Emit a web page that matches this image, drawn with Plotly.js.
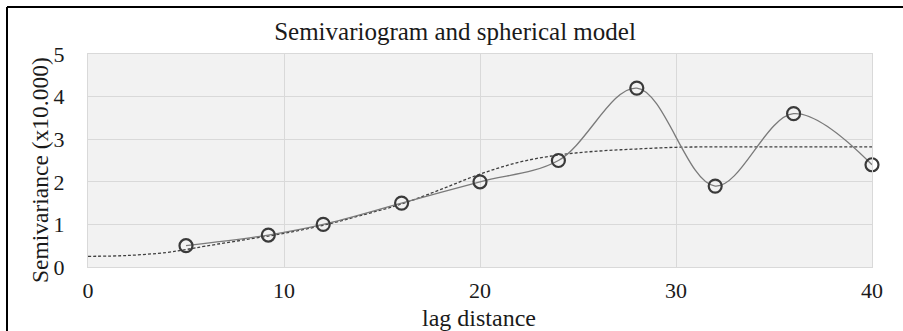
<!DOCTYPE html>
<html>
<head>
<meta charset="utf-8">
<script src="https://cdn.plot.ly/plotly-3.0.1.min.js"></script>
<style>
  html, body { margin: 0; padding: 0; background: #ffffff; }
  #chart { width: 903px; height: 331px; }
</style>
</head>
<body>
<div id="chart"></div>
<script>
// Experimental semivariogram (lag distance, semivariance x10.000)
const lagDistance = [5, 9.2, 12, 16, 20, 24, 28, 32, 36, 40];
const semivariance = [0.5, 0.75, 1.0, 1.5, 2.0, 2.5, 4.2, 1.9, 3.6, 2.4];

// Spherical model curve
const modelLag = [0, 2, 4, 5, 6, 8, 10, 12, 14, 16, 18, 20, 22, 24, 26, 28, 30, 32, 34, 36, 38, 40];
const modelValue = [0.25, 0.27, 0.34, 0.41, 0.49, 0.64, 0.79, 0.98, 1.22, 1.48, 1.82, 2.18, 2.46, 2.63, 2.72, 2.77, 2.81, 2.82, 2.82, 2.82, 2.82, 2.82];

const xTicks = [0, 10, 20, 30, 40];
const yTicks = [0, 1, 2, 3, 4, 5];

const serif = 'Liberation Serif, Times New Roman, serif';

const traces = [
  {
    x: modelLag, y: modelValue, type: 'scatter', mode: 'lines',
    line: { color: '#3f3f3f', width: 1.3, dash: '3px,2px', shape: 'spline', smoothing: 1 },
    hoverinfo: 'skip', showlegend: false
  },
  {
    x: lagDistance, y: semivariance, type: 'scatter', mode: 'lines+markers',
    cliponaxis: false,
    line: { color: '#7a7a7a', width: 1.3, shape: 'spline', smoothing: 1 },
    marker: { symbol: 'circle-open', size: 13, color: '#3a3a3a', line: { width: 2.2, color: '#3a3a3a' } },
    showlegend: false
  }
];

// pixel -> paper helpers for the outer frame and text placement
const L = 88, R = 31, T = 54, B = 64, W = 903, H = 331;
const pw = W - L - R, ph = H - T - B;
const px = p => (p - L) / pw;
const py = p => (H - B - p) / ph;

const layout = {
  width: W, height: H,
  margin: { l: L, r: R, t: T, b: B, pad: 0 },
  paper_bgcolor: '#ffffff',
  plot_bgcolor: '#f2f2f2',
  font: { family: serif, color: '#1a1a1a', size: 22 },
  title: {
    text: 'Semivariogram and spherical model',
    font: { family: serif, size: 25, color: '#1a1a1a' },
    x: 455 / W, xanchor: 'center', xref: 'container',
    y: 1 - 31 / H, yanchor: 'middle', yref: 'container'
  },
  xaxis: {
    range: [0, 40], tickvals: xTicks, ticktext: xTicks.map(String),
    showgrid: true, gridcolor: '#d9d9d9', gridwidth: 1,
    zeroline: false, showline: true, linecolor: '#d9d9d9', mirror: true,
    ticks: '', ticklabelstandoff: 4,
    tickfont: { family: serif, size: 22, color: '#1a1a1a' }
  },
  yaxis: {
    range: [0, 5], tickvals: yTicks, ticktext: yTicks.map(String),
    showgrid: true, gridcolor: '#d9d9d9', gridwidth: 1,
    zeroline: false, showline: true, linecolor: '#d9d9d9', mirror: true,
    ticks: '', ticklabelstandoff: 18,
    tickfont: { family: serif, size: 22, color: '#1a1a1a' }
  },
  annotations: [
    {
      text: 'Semivariance (x10.000)', textangle: -90,
      xref: 'paper', yref: 'paper', x: px(40), y: py(170),
      xanchor: 'center', yanchor: 'middle', showarrow: false,
      font: { family: serif, size: 23.5, color: '#1a1a1a' }
    },
    {
      text: 'lag distance',
      xref: 'paper', yref: 'paper', x: px(479), y: py(318),
      xanchor: 'center', yanchor: 'middle', showarrow: false,
      font: { family: serif, size: 24, color: '#1a1a1a' }
    }
  ],
  shapes: [
    { type: 'line', xref: 'paper', yref: 'paper', x0: px(7), x1: px(903), y0: py(7), y1: py(7), line: { color: '#000000', width: 2 } },
    { type: 'line', xref: 'paper', yref: 'paper', x0: px(7), x1: px(7), y0: py(7), y1: py(331), line: { color: '#000000', width: 2 } }
  ]
};

Plotly.newPlot('chart', traces, layout, { displayModeBar: false, staticPlot: true });
</script>
</body>
</html>
